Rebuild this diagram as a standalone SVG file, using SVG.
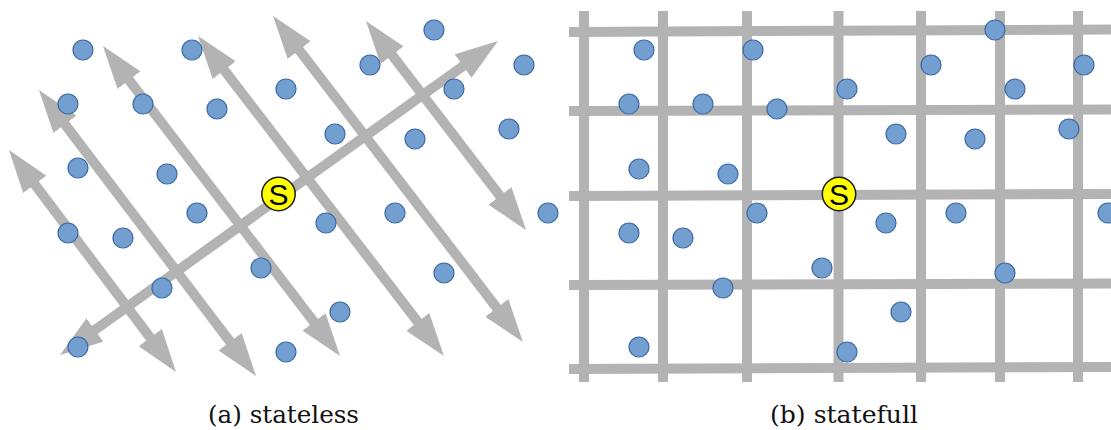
<svg xmlns="http://www.w3.org/2000/svg" width="1111" height="430" viewBox="0 0 1111 430">
<style>
.arr{stroke:#b3b3b3;stroke-width:10;fill:none;marker-start:url(#head);marker-end:url(#head)}
.grid{stroke:#b3b3b3;stroke-width:10;fill:none}
.dot{fill:#729fcf;stroke:#3d69a6;stroke-width:1.2}
.src{fill:#ffff00;stroke:#1a1a1a;stroke-width:1.5}
.s{font-family:"Liberation Sans",Arial,sans-serif;font-size:30px;fill:#000;text-anchor:middle}
.cap{font-family:"DejaVu Serif","Liberation Serif",serif;font-size:24px;fill:#111;text-anchor:middle}
</style>
<defs>
<marker id="head" markerUnits="userSpaceOnUse" markerWidth="43" markerHeight="29" viewBox="0 0 43 29" refX="13" refY="14.5" orient="auto-start-reverse">
<path d="M0,0 L43,14.5 L0,29 z" fill="#b3b3b3"/>
</marker>
</defs>
<rect width="1111" height="430" fill="#fff"/>

<!-- (a) stateless : connectors -->
<g id="connectors-a">
<line class="arr" x1="84.4" y1="337.5" x2="473.6" y2="58.5"/>
<line class="arr" x1="27.0" y1="174.0" x2="158.0" y2="348.0"/>
<line class="arr" x1="57.1" y1="113.9" x2="237.9" y2="352.1"/>
<line class="arr" x1="121.2" y1="69.8" x2="321.8" y2="332.2"/>
<line class="arr" x1="216.3" y1="59.8" x2="425.7" y2="332.2"/>
<line class="arr" x1="291.3" y1="39.8" x2="504.7" y2="318.2"/>
<line class="arr" x1="384.2" y1="44.8" x2="507.8" y2="206.2"/>
</g>

<!-- (b) statefull : grid -->
<g id="connectors-b">
<line class="grid" x1="584" y1="11" x2="584" y2="382"/>
<line class="grid" x1="663" y1="11" x2="663" y2="382"/>
<line class="grid" x1="747" y1="11" x2="747" y2="382"/>
<line class="grid" x1="838.5" y1="11" x2="838.5" y2="382"/>
<line class="grid" x1="921" y1="11" x2="921" y2="382"/>
<line class="grid" x1="1000" y1="11" x2="1000" y2="382"/>
<line class="grid" x1="1078" y1="11" x2="1078" y2="382"/>
<line class="grid" x1="569" y1="32" x2="1111" y2="29.5"/>
<line class="grid" x1="569" y1="111" x2="1111" y2="109.5"/>
<line class="grid" x1="569" y1="196" x2="1111" y2="194"/>
<line class="grid" x1="569" y1="285" x2="1111" y2="283.5"/>
<line class="grid" x1="569" y1="369" x2="1111" y2="367"/>
</g>

<!-- (a) nodes -->
<g id="a-n1"><circle class="dot" cx="83" cy="50" r="10"/></g>
<g id="a-n2"><circle class="dot" cx="192" cy="50" r="10"/></g>
<g id="a-n3"><circle class="dot" cx="434" cy="30" r="10"/></g>
<g id="a-n4"><circle class="dot" cx="370" cy="65" r="10"/></g>
<g id="a-n5"><circle class="dot" cx="286" cy="89" r="10"/></g>
<g id="a-n6"><circle class="dot" cx="524" cy="65" r="10"/></g>
<g id="a-n7"><circle class="dot" cx="454" cy="89" r="10"/></g>
<g id="a-n8"><circle class="dot" cx="68" cy="104" r="10"/></g>
<g id="a-n9"><circle class="dot" cx="143" cy="104" r="10"/></g>
<g id="a-n10"><circle class="dot" cx="217" cy="109" r="10"/></g>
<g id="a-n11"><circle class="dot" cx="335" cy="134" r="10"/></g>
<g id="a-n12"><circle class="dot" cx="415" cy="139" r="10"/></g>
<g id="a-n13"><circle class="dot" cx="509" cy="129" r="10"/></g>
<g id="a-n14"><circle class="dot" cx="78" cy="168" r="10"/></g>
<g id="a-n15"><circle class="dot" cx="167" cy="174" r="10"/></g>
<g id="a-n16"><circle class="dot" cx="197" cy="213" r="10"/></g>
<g id="a-n17"><circle class="dot" cx="326" cy="223" r="10"/></g>
<g id="a-n18"><circle class="dot" cx="395" cy="213" r="10"/></g>
<g id="a-n19"><circle class="dot" cx="548" cy="213" r="10"/></g>
<g id="a-n20"><circle class="dot" cx="68" cy="233" r="10"/></g>
<g id="a-n21"><circle class="dot" cx="123" cy="238" r="10"/></g>
<g id="a-n22"><circle class="dot" cx="261" cy="268" r="10"/></g>
<g id="a-n23"><circle class="dot" cx="444" cy="273" r="10"/></g>
<g id="a-n24"><circle class="dot" cx="162" cy="288" r="10"/></g>
<g id="a-n25"><circle class="dot" cx="340" cy="312" r="10"/></g>
<g id="a-n26"><circle class="dot" cx="78" cy="347" r="10"/></g>
<g id="a-n27"><circle class="dot" cx="286" cy="352" r="10"/></g>
<g id="a-source"><circle class="src" cx="278.5" cy="194" r="16.7"/><text class="s" x="278.5" y="205">S</text></g>

<!-- (b) nodes -->
<g id="b-n1"><circle class="dot" cx="644" cy="50" r="10"/></g>
<g id="b-n2"><circle class="dot" cx="753" cy="50" r="10"/></g>
<g id="b-n3"><circle class="dot" cx="995" cy="30" r="10"/></g>
<g id="b-n4"><circle class="dot" cx="931" cy="65" r="10"/></g>
<g id="b-n5"><circle class="dot" cx="847" cy="89" r="10"/></g>
<g id="b-n6"><circle class="dot" cx="1084" cy="65" r="10"/></g>
<g id="b-n7"><circle class="dot" cx="1015" cy="89" r="10"/></g>
<g id="b-n8"><circle class="dot" cx="629" cy="104" r="10"/></g>
<g id="b-n9"><circle class="dot" cx="703" cy="104" r="10"/></g>
<g id="b-n10"><circle class="dot" cx="777" cy="109" r="10"/></g>
<g id="b-n11"><circle class="dot" cx="896" cy="134" r="10"/></g>
<g id="b-n12"><circle class="dot" cx="975" cy="139" r="10"/></g>
<g id="b-n13"><circle class="dot" cx="1069" cy="129" r="10"/></g>
<g id="b-n14"><circle class="dot" cx="639" cy="169" r="10"/></g>
<g id="b-n15"><circle class="dot" cx="728" cy="174" r="10"/></g>
<g id="b-n16"><circle class="dot" cx="757" cy="213" r="10"/></g>
<g id="b-n17"><circle class="dot" cx="886" cy="223" r="10"/></g>
<g id="b-n18"><circle class="dot" cx="956" cy="213" r="10"/></g>
<g id="b-n19"><circle class="dot" cx="1108" cy="213" r="10"/></g>
<g id="b-n20"><circle class="dot" cx="629" cy="233" r="10"/></g>
<g id="b-n21"><circle class="dot" cx="683" cy="238" r="10"/></g>
<g id="b-n22"><circle class="dot" cx="822" cy="268" r="10"/></g>
<g id="b-n23"><circle class="dot" cx="1005" cy="273" r="10"/></g>
<g id="b-n24"><circle class="dot" cx="723" cy="288" r="10"/></g>
<g id="b-n25"><circle class="dot" cx="901" cy="312" r="10"/></g>
<g id="b-n26"><circle class="dot" cx="639" cy="347" r="10"/></g>
<g id="b-n27"><circle class="dot" cx="847" cy="352" r="10"/></g>
<g id="b-source"><circle class="src" cx="839" cy="194" r="16.7"/><text class="s" x="839" y="205">S</text></g>

<!-- captions -->
<text class="cap" x="283.5" y="423" textLength="151" lengthAdjust="spacingAndGlyphs">(a) stateless</text>
<text class="cap" x="844" y="423" textLength="148" lengthAdjust="spacingAndGlyphs">(b) statefull</text>
</svg>
